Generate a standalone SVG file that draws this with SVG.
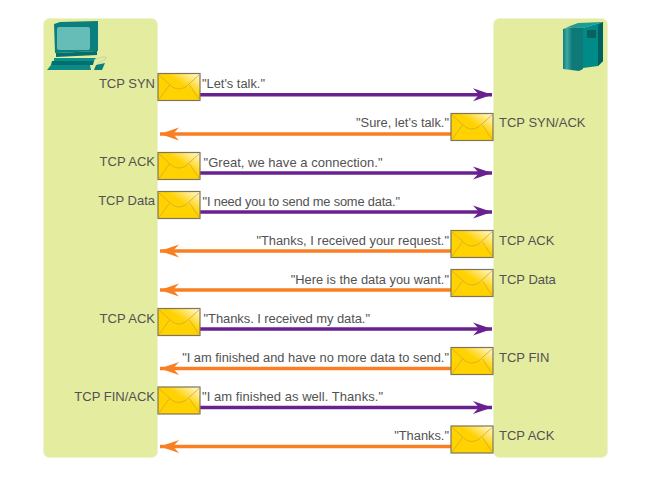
<svg xmlns="http://www.w3.org/2000/svg" width="654" height="488" viewBox="0 0 654 488">
<style>
text{font-family:"Liberation Sans",Arial,sans-serif;font-size:12.85px;fill:#525252}
.l{font-size:13px}
.e{text-anchor:end}
.panel{fill:#e4ec9f;stroke:#eef3d0;stroke-width:1}
.p{stroke:#6a2190;stroke-width:3.4;fill:none;marker-end:url(#mp)}
.o{stroke:#f97f22;stroke-width:3.4;fill:none;marker-end:url(#mo)}
</style>
<defs>
<marker id="mp" markerUnits="userSpaceOnUse" markerWidth="20" markerHeight="14" refX="19" refY="7" orient="auto"><path d="M0 0.5L19 7L0 13.5L6 7Z" fill="#6a2190"/></marker>
<marker id="mo" markerUnits="userSpaceOnUse" markerWidth="20" markerHeight="14" refX="19" refY="7" orient="auto"><path d="M0 0.5L19 7L0 13.5L6 7Z" fill="#f97f22"/></marker>
<linearGradient id="env" x1="0" y1="1" x2="1" y2="0"><stop offset="0.58" stop-color="#ffd200"/><stop offset="1" stop-color="#fffbe6"/></linearGradient>
<linearGradient id="srv" x1="0" x2="1" y1="0" y2="0"><stop offset="0" stop-color="#117d7b"/><stop offset="0.2" stop-color="#3da8a3"/><stop offset="0.45" stop-color="#0e7a78"/></linearGradient>
<g id="envelope">
<rect x="0.5" y="0.5" width="42" height="27" fill="url(#env)" stroke="#7d7658" stroke-width="1.2"/>
<path d="M1 1.5L15 14Q21 18 28 14L42 1.5M1 27L12 12M42 27L32 12" fill="none" stroke="#d3a92c" stroke-width="0.8"/>
</g>
</defs>
<g id="client">
<rect class="panel" x="43.5" y="18.5" width="114" height="439" rx="6"/>
<path d="M54 24L60 22L98 21V51L55 53Z" fill="#0a7f7d"/>
<rect x="57" y="27" width="33" height="23" rx="2" fill="#66bdb8"/>
<path d="M56 53L97 51V55L56 57Z" fill="#04706e"/>
<path d="M54 58H96L94 61H54Z" fill="#0a8f8b"/>
<path d="M52 61H94L93 65H51Z" fill="#00706e"/>
<path d="M51 65H90L91 70H47Z" fill="#0d8a87"/>
<path d="M94 60Q103 56 106 57T100 62Q97 63 98 65" fill="none" stroke="#bcd6a8" stroke-width="0.9"/>
<path d="M96 65L105 63L102 70H94Z" fill="#0a7f7d"/>
</g>
<g id="server">
<rect class="panel" x="493.5" y="18.5" width="114" height="439" rx="6"/>
<path d="M564 29L570 26L578 23L603 22L583 28Q572 26 564 29Z" fill="#1d9b97"/>
<path d="M563 29Q572 26 583 28V69L579 71L563 69Z" fill="url(#srv)"/>
<path d="M583 28L603 22V61L598 66L583 68Z" fill="#008b88"/>
<path d="M598 25L603 22V61L598 66Z" fill="#00625f"/>
<rect x="587" y="30" width="9" height="8" fill="#0b615f"/>
</g>
<g id="connectors">
<line class="p" x1="200" y1="94.7" x2="492" y2="94.7"/>
<line class="o" x1="451" y1="134" x2="160" y2="134"/>
<line class="p" x1="200" y1="173" x2="492" y2="173"/>
<line class="p" x1="200" y1="212" x2="492" y2="212"/>
<line class="o" x1="451" y1="251" x2="160" y2="251"/>
<line class="o" x1="451" y1="290" x2="160" y2="290"/>
<line class="p" x1="200" y1="329" x2="492" y2="329"/>
<line class="o" x1="451" y1="368.5" x2="160" y2="368.5"/>
<line class="p" x1="200" y1="407.5" x2="492" y2="407.5"/>
<line class="o" x1="451" y1="446.5" x2="160" y2="446.5"/>
</g>
<g id="msg1"><use href="#envelope" x="157.5" y="73"/><text class="e l" x="155" y="88">TCP SYN</text><text x="202" y="88">"Let's talk."</text></g>
<g id="msg2"><use href="#envelope" x="450.5" y="113"/><text class="l" x="499" y="127">TCP SYN/ACK</text><text class="e" x="449" y="127">"Sure, let's talk."</text></g>
<g id="msg3"><use href="#envelope" x="157.5" y="152"/><text class="e l" x="155" y="166">TCP ACK</text><text class="l" x="203.5" y="166.5" textLength="179">"Great, we have a connection."</text></g>
<g id="msg4"><use href="#envelope" x="157.5" y="191"/><text class="e l" x="155" y="205">TCP Data</text><text x="202.5" y="206" textLength="197.5">"I need you to send me some data."</text></g>
<g id="msg5"><use href="#envelope" x="450.5" y="230"/><text class="l" x="499" y="245">TCP ACK</text><text class="e" x="449" y="245">"Thanks, I received your request."</text></g>
<g id="msg6"><use href="#envelope" x="450.5" y="269"/><text class="l" x="499" y="284">TCP Data</text><text class="e" x="449" y="284">"Here is the data you want."</text></g>
<g id="msg7"><use href="#envelope" x="157.5" y="308"/><text class="e l" x="155" y="323">TCP ACK</text><text class="l" x="203.5" y="323" textLength="166.5">"Thanks. I received my data."</text></g>
<g id="msg8"><use href="#envelope" x="450.5" y="347"/><text class="l" x="499" y="362">TCP FIN</text><text class="e" x="449" y="362">"I am finished and have no more data to send."</text></g>
<g id="msg9"><use href="#envelope" x="157.5" y="386.5"/><text class="e l" x="155" y="401">TCP FIN/ACK</text><text class="l" x="202" y="401" textLength="181">"I am finished as well. Thanks."</text></g>
<g id="msg10"><use href="#envelope" x="450.5" y="425.5"/><text class="l" x="499" y="440">TCP ACK</text><text class="e" x="449" y="440">"Thanks."</text></g>
</svg>
